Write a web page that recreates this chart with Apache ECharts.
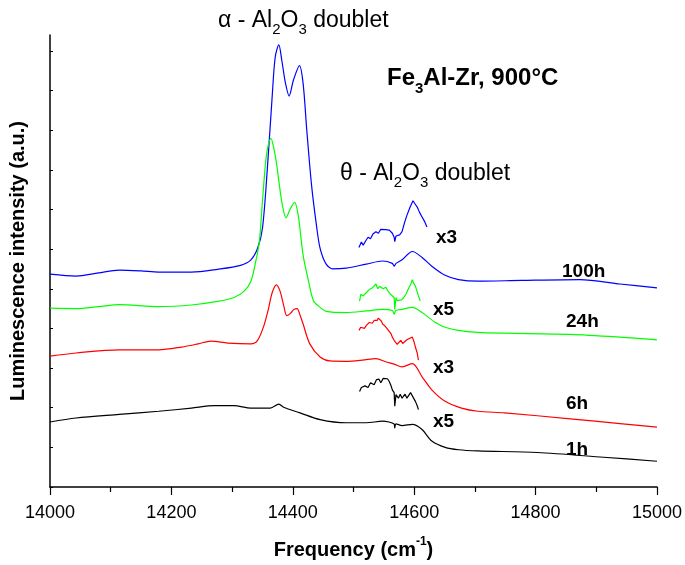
<!DOCTYPE html>
<html>
<head>
<meta charset="utf-8">
<script src="https://cdn.jsdelivr.net/npm/echarts@6/dist/echarts.min.js"></script>
<style>
  html, body { margin: 0; padding: 0; background: #ffffff; }
  #chart { width: 685px; height: 565px; }
</style>
</head>
<body>
<div id="chart"></div>
<script>
// Frequency axis (cm^-1)
const freqTicks = [14000, 14200, 14400, 14600, 14800, 15000];
// Unlabelled intensity ticks (a.u.)
const intensityTicks = [0, 1, 2, 3, 4, 5, 6, 7, 8, 9, 10, 11];

// Luminescence spectra, [frequency, intensity] — oxidation times at 900 °C
const spec100h = [
  [14000, 5.37], [14043, 5.32], [14080, 5.40], [14114, 5.47], [14150, 5.45], [14179, 5.42],
  [14233, 5.42], [14276, 5.49], [14314, 5.59], [14331, 5.73], [14342, 6.02], [14350, 6.52],
  [14358, 8.01], [14366, 9.84], [14371, 10.84], [14377, 11.15], [14382, 10.75], [14388, 10.18],
  [14394, 9.86], [14401, 10.26], [14411, 10.63], [14417, 10.18], [14423, 9.01], [14431, 7.60],
  [14439, 6.60], [14445, 6.02], [14455, 5.62], [14466, 5.50], [14488, 5.52], [14521, 5.62],
  [14548, 5.70], [14564, 5.64], [14567, 5.57], [14570, 5.64], [14580, 5.73], [14597, 5.94],
  [14613, 5.79], [14629, 5.57], [14651, 5.34], [14673, 5.23], [14705, 5.19], [14776, 5.21],
  [14873, 5.23], [14939, 5.12], [15000, 5.02]
];
const spec24h = [
  [14000, 4.51], [14043, 4.50], [14080, 4.55], [14114, 4.60], [14179, 4.55], [14233, 4.59],
  [14276, 4.68], [14303, 4.78], [14320, 4.94], [14331, 5.19], [14339, 5.69], [14345, 6.20],
  [14350, 7.20], [14356, 8.30], [14361, 8.72], [14364, 8.79], [14368, 8.60], [14373, 8.18],
  [14382, 7.18], [14389, 6.79], [14396, 7.02], [14403, 7.18], [14409, 6.85], [14417, 5.85],
  [14426, 5.19], [14434, 4.70], [14445, 4.53], [14455, 4.43], [14488, 4.40], [14521, 4.44],
  [14548, 4.48], [14564, 4.45], [14567, 4.36], [14570, 4.45], [14580, 4.48], [14597, 4.53],
  [14613, 4.40], [14635, 4.15], [14651, 4.03], [14673, 3.95], [14705, 3.90], [14749, 3.88],
  [14857, 3.85], [14939, 3.78], [15000, 3.71]
];
const spec6h = [
  [14000, 3.30], [14043, 3.38], [14114, 3.46], [14179, 3.46], [14217, 3.53], [14244, 3.61],
  [14265, 3.68], [14293, 3.63], [14331, 3.61], [14342, 3.70], [14352, 4.05], [14360, 4.50],
  [14366, 4.90], [14373, 5.10], [14379, 4.94], [14385, 4.58], [14390, 4.32], [14396, 4.38],
  [14402, 4.48], [14407, 4.50], [14412, 4.33], [14417, 4.11], [14428, 3.61], [14445, 3.28],
  [14461, 3.18], [14488, 3.17], [14515, 3.20], [14537, 3.24], [14553, 3.16], [14567, 3.10],
  [14580, 3.03], [14597, 3.11], [14613, 2.78], [14629, 2.45], [14651, 2.16], [14678, 1.99],
  [14705, 1.91], [14749, 1.87], [14857, 1.72], [14939, 1.60], [15000, 1.51]
];
const spec1h = [
  [14000, 1.64], [14043, 1.74], [14114, 1.83], [14179, 1.91], [14233, 1.99], [14271, 2.05],
  [14303, 2.05], [14331, 1.99], [14363, 1.99], [14377, 2.09], [14385, 2.01], [14412, 1.87],
  [14445, 1.70], [14488, 1.62], [14521, 1.62], [14548, 1.66], [14567, 1.59], [14568, 1.49],
  [14570, 1.59], [14580, 1.55], [14597, 1.58], [14613, 1.45], [14629, 1.16], [14651, 1.00],
  [14673, 0.94], [14705, 0.91], [14803, 0.87], [14912, 0.75], [15000, 0.65]
];

// Magnified θ-Al2O3 region (x3 / x5), drawn offset above each spectrum
const zoom100h = [
  [14509, 6.04], [14513, 6.18], [14516, 6.10], [14521, 6.23], [14524, 6.30], [14528, 6.26],
  [14532, 6.38], [14537, 6.44], [14541, 6.40], [14545, 6.50], [14548, 6.46], [14553, 6.49],
  [14559, 6.48], [14564, 6.40], [14567, 6.30], [14568, 6.19], [14570, 6.33], [14572, 6.37],
  [14576, 6.36], [14580, 6.44], [14584, 6.66], [14588, 6.85], [14593, 7.05], [14598, 7.22],
  [14601, 7.15], [14605, 7.06], [14609, 6.92], [14613, 6.81], [14617, 6.70], [14621, 6.56]
];
const zoom24h = [
  [14510, 4.69], [14512, 4.86], [14516, 4.82], [14521, 4.90], [14524, 4.86], [14526, 4.98],
  [14529, 4.94], [14531, 5.02], [14534, 4.97], [14537, 5.12], [14540, 5.00], [14543, 5.06],
  [14545, 5.04], [14549, 5.00], [14553, 5.04], [14557, 4.94], [14561, 4.86], [14564, 4.82],
  [14567, 4.78], [14568, 4.48], [14570, 4.78], [14572, 4.70], [14575, 4.65], [14579, 4.72],
  [14583, 4.78], [14587, 4.88], [14591, 5.02], [14594, 5.10], [14597, 5.23], [14599, 5.14],
  [14602, 5.07], [14605, 4.92], [14607, 4.82], [14610, 4.69]
];
const zoom6h = [
  [14509, 3.95], [14512, 4.03], [14515, 4.05], [14518, 4.00], [14521, 4.07], [14524, 4.12],
  [14526, 4.15], [14529, 4.10], [14531, 4.13], [14534, 4.20], [14536, 4.23], [14539, 4.20],
  [14541, 4.26], [14543, 4.28], [14546, 4.18], [14548, 4.11], [14552, 4.06], [14556, 3.98],
  [14559, 3.95], [14562, 3.86], [14564, 3.78], [14567, 3.70], [14570, 3.66], [14572, 3.60],
  [14575, 3.57], [14578, 3.70], [14581, 3.62], [14583, 3.61], [14587, 3.70], [14591, 3.74],
  [14594, 3.72], [14597, 3.78], [14600, 3.65], [14602, 3.53], [14605, 3.38], [14607, 3.20]
];
const zoom1h = [
  [14510, 2.41], [14513, 2.51], [14516, 2.46], [14519, 2.55], [14521, 2.58], [14524, 2.51],
  [14528, 2.63], [14531, 2.66], [14534, 2.58], [14538, 2.71], [14542, 2.72], [14545, 2.63],
  [14549, 2.74], [14552, 2.78], [14556, 2.73], [14559, 2.66], [14562, 2.55], [14564, 2.45],
  [14567, 2.38], [14568, 2.04], [14570, 2.33], [14574, 2.24], [14577, 2.34], [14580, 2.24],
  [14585, 2.34], [14588, 2.24], [14591, 2.28], [14594, 2.38], [14597, 2.33], [14602, 2.16],
  [14605, 2.05], [14607, 1.95]
];

const BLUE = '#0000ff', GREEN = '#00ff00', RED = '#ff0000', BLACK = '#000000';
const FONT = '"Liberation Sans", Arial, Helvetica, sans-serif';

function spectrum(name, data, color, smooth) {
  return {
    name: name,
    type: 'line',
    data: data,
    showSymbol: false,
    smooth: smooth,
    lineStyle: { color: color, width: 1.2 },
    silent: true,
    animation: false
  };
}

const chart = echarts.init(document.getElementById('chart'), null, { renderer: 'canvas' });

const subRich = {
  n: { fontFamily: FONT, fontSize: 23, color: '#000', lineHeight: 34 },
  s: { fontFamily: FONT, fontSize: 15, color: '#000', lineHeight: 34, verticalAlign: 'bottom' }
};

function label(text, left, top, rich) {
  return { type: 'text', left: left, top: top, silent: true, style: { text: text, rich: rich } };
}

const tagRich = { h: { fontFamily: FONT, fontSize: 19, fontWeight: 'bold', color: '#000' } };

chart.setOption({
  backgroundColor: '#ffffff',
  animation: false,
  grid: { left: 47, right: 24, top: 35, bottom: 73, containLabel: false },
  xAxis: {
    type: 'value',
    min: 14000,
    max: 15000,
    interval: 200,
    name: '{b|Frequency (cm}{p|-1}{b|)}',
    nameLocation: 'middle',
    nameGap: 49,
    nameTextStyle: {
      rich: {
        b: { fontFamily: FONT, fontSize: 20, fontWeight: 'bold', color: '#000', lineHeight: 28 },
        p: { fontFamily: FONT, fontSize: 12, fontWeight: 'bold', color: '#000', lineHeight: 28, verticalAlign: 'top' }
      }
    },
    axisLine: { show: true, onZero: false, lineStyle: { color: '#000', width: 1.5 } },
    axisTick: { show: true, inside: false, length: 8, lineStyle: { color: '#000', width: 1.2 } },
    minorTick: { show: true, splitNumber: 2, length: 5, lineStyle: { color: '#000', width: 1.2 } },
    axisLabel: {
      show: true, margin: 17, fontFamily: FONT, fontSize: 18, color: '#000',
      customValues: freqTicks,
      formatter: function (v) { return String(v); }
    },
    splitLine: { show: false },
    minorSplitLine: { show: false }
  },
  yAxis: {
    type: 'value',
    min: 0,
    max: 11.4,
    interval: 1,
    name: 'Luminescence intensity (a.u.)',
    nameLocation: 'middle',
    nameGap: 22,
    nameRotate: 90,
    nameTextStyle: { fontFamily: FONT, fontSize: 20, fontWeight: 'bold', color: '#000' },
    axisLine: { show: true, onZero: false, lineStyle: { color: '#000', width: 1.5 } },
    axisTick: { show: true, inside: true, length: 3, lineStyle: { color: '#000', width: 1 }, customValues: intensityTicks },
    axisLabel: { show: false },
    splitLine: { show: false }
  },
  series: [
    spectrum('100h', spec100h, BLUE, 0.3),
    spectrum('24h', spec24h, GREEN, 0.3),
    spectrum('6h', spec6h, RED, 0.3),
    spectrum('1h', spec1h, BLACK, 0.3),
    spectrum('100h x3', zoom100h, BLUE, false),
    spectrum('24h x5', zoom24h, GREEN, false),
    spectrum('6h x3', zoom6h, RED, false),
    spectrum('1h x5', zoom1h, BLACK, false)
  ],
  graphic: [
    label('{n|\u03b1 - Al}{s|2}{n|O}{s|3}{n| doublet}', 218, 9, subRich),
    label('{n|\u03b8 - Al}{s|2}{n|O}{s|3}{n| doublet}', 340, 162, subRich),
    label('{t|Fe}{u|3}{t|Al-Zr, 900\u00b0C}', 387, 66, {
      t: { fontFamily: FONT, fontSize: 24, fontWeight: 'bold', color: '#000080', lineHeight: 36 },
      u: { fontFamily: FONT, fontSize: 15, fontWeight: 'bold', color: '#000080', lineHeight: 36, verticalAlign: 'bottom' }
    }),
    label('{h|x3}', 436, 228, tagRich),
    label('{h|x5}', 433, 300, tagRich),
    label('{h|x3}', 433, 358, tagRich),
    label('{h|x5}', 433, 412, tagRich),
    label('{h|100h}', 562, 262, tagRich),
    label('{h|24h}', 566, 312, tagRich),
    label('{h|6h}', 566, 394, tagRich),
    label('{h|1h}', 566, 440, tagRich)
  ]
});
</script>
</body>
</html>
